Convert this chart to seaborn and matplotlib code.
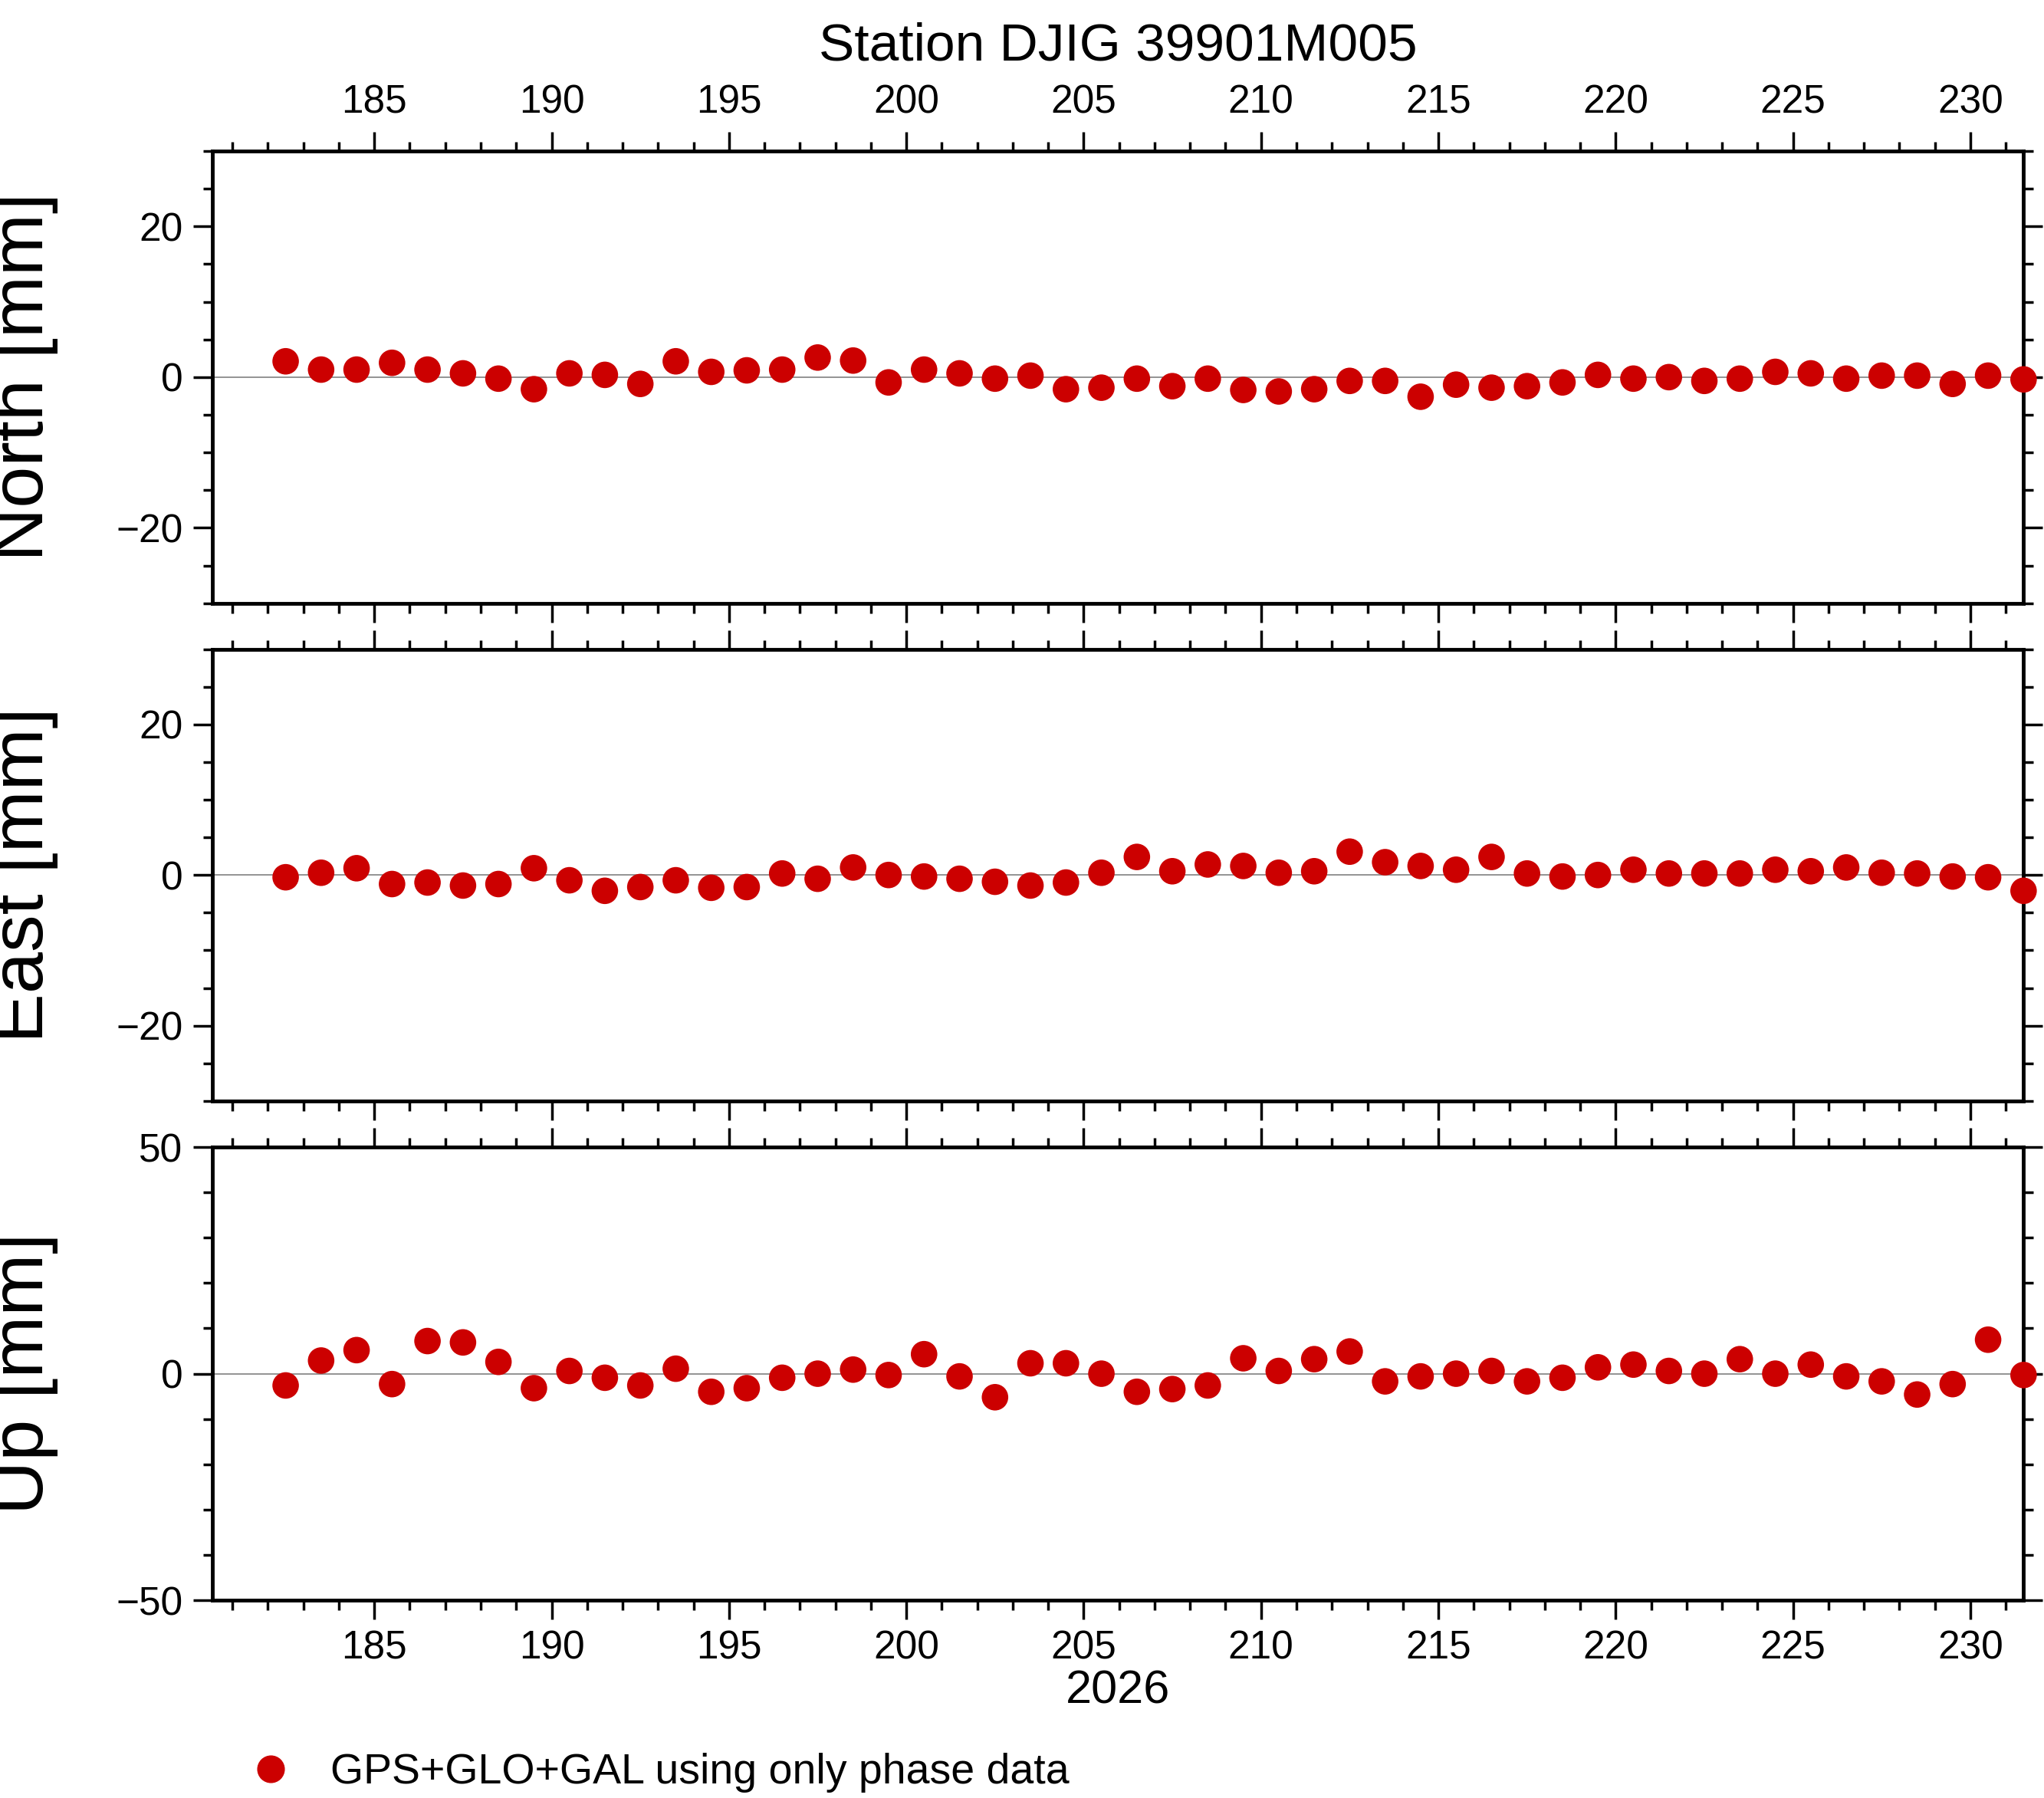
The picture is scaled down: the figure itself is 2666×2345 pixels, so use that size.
import matplotlib
matplotlib.use("Agg")
import matplotlib.pyplot as plt
from matplotlib.ticker import MultipleLocator
from matplotlib.lines import Line2D
import numpy as np
import pandas as pd
import seaborn as sns

sns.set_style("ticks")
plt.rcParams["font.family"] = ["Liberation Sans", "DejaVu Sans"]
plt.rcParams["text.color"] = "black"
plt.rcParams["axes.labelcolor"] = "black"
plt.rcParams["xtick.color"] = "black"
plt.rcParams["ytick.color"] = "black"
plt.rcParams["axes.edgecolor"] = "black"

days = np.arange(182.5, 232.0, 1.0)

north_px = [278, 284, 284, 279, 284, 287, 291, 299, 287, 288, 295, 278, 286, 285, 284, 275, 277,
            294, 284, 287, 291, 289, 299, 298, 291, 297, 291, 300, 301, 299, 293, 293, 305, 296,
            298, 297, 294, 288, 291, 290, 293, 291, 286, 287, 291, 289, 289, 295, 289, 292]
east_px = [674, 670, 667, 679, 678, 680, 679, 667, 676, 684, 681, 676, 682, 681, 671, 675, 666,
           672, 673, 675, 677, 680, 678, 670, 658, 669, 664, 665, 670, 669, 654, 662, 665, 668,
           658, 671, 673, 672, 668, 671, 671, 671, 668, 669, 666, 670, 671, 673, 674, 684]
up_px = [1064, 1045, 1037, 1063, 1030, 1031, 1046, 1066, 1053, 1058, 1064, 1051, 1069, 1066,
         1058, 1055, 1052, 1056, 1040, 1057, 1073, 1047, 1047, 1055, 1069, 1067, 1064, 1043,
         1053, 1044, 1038, 1061, 1057, 1055, 1053, 1061, 1058, 1050, 1048, 1053, 1055, 1044,
         1055, 1048, 1057, 1061, 1071, 1063, 1029, 1056]

north = [round((290 - p) / 5.8, 1) for p in north_px]
east = [round((672 - p) / 5.8, 1) for p in east_px]
up = [round((1055 - p) / 3.48, 1) for p in up_px]

panels = [("North [mm]", north, 30, 20, 5),
          ("East [mm]", east, 30, 20, 5),
          ("Up [mm]", up, 50, 50, 10)]

red = "#cc0000"
fig = plt.figure(figsize=(26.66, 23.45), dpi=100)
boxes = [(0.6645, 0.916), (0.3877, 0.639), (0.110, 0.362)]
axes = []
for i, ((label, vals, lim, major, minor), (b, t)) in enumerate(zip(panels, boxes)):
    ax = fig.add_axes([0.104, b, 0.886, t - b])
    df = pd.DataFrame({"day": days, "val": vals})
    ax.axhline(0, color="#808080", lw=1.2, zorder=1)
    sns.scatterplot(data=df, x="day", y="val", ax=ax, s=620, color=red,
                    edgecolor="none", zorder=3, clip_on=False)
    ax.set_xlim(180.44, 231.5)
    ax.set_ylim(-lim, lim)
    ax.xaxis.set_major_locator(MultipleLocator(5))
    ax.xaxis.set_minor_locator(MultipleLocator(1))
    ax.yaxis.set_major_locator(MultipleLocator(major))
    ax.yaxis.set_minor_locator(MultipleLocator(minor))
    ax.tick_params(which="both", direction="out", top=True, right=True, width=2.5,
                   labelsize=37, pad=10)
    ax.tick_params(which="major", length=18)
    ax.tick_params(which="minor", length=9)
    ax.tick_params(axis="x", labeltop=(i == 0), labelbottom=(i == 2))
    for sp in ax.spines.values():
        sp.set_linewidth(3.5)
    ax.set_ylabel(label, fontsize=70)
    ax.set_xlabel("2026" if i == 2 else "", fontsize=44, labelpad=2)
    ax.yaxis.set_label_coords(-0.085, 0.5)
    axes.append(ax)

axes[0].set_title("Station DJIG 39901M005", fontsize=50, pad=85)

handle = Line2D([], [], marker="o", color=red, ls="none", markersize=25)
fig.legend([handle], ["GPS+GLO+GAL using only phase data"], loc="center left",
           bbox_to_anchor=(0.093, 0.014), frameon=False, fontsize=40,
           handletextpad=0.4)

fig.savefig("out.png", dpi=100)
